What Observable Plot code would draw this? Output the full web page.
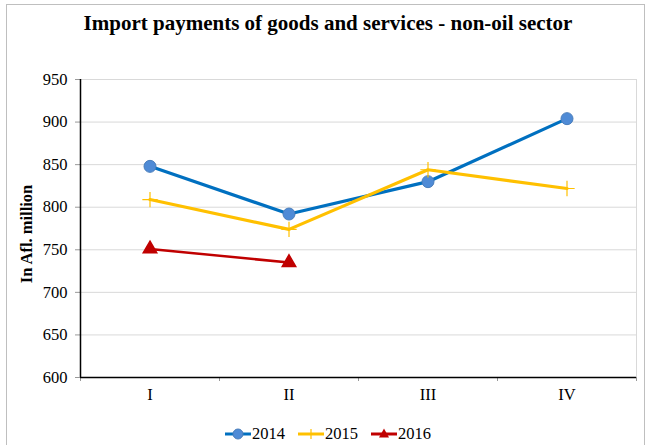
<!DOCTYPE html>
<html><head><meta charset="utf-8">
<script src="https://cdn.jsdelivr.net/npm/d3@7"></script>
<script src="https://cdn.jsdelivr.net/npm/@observablehq/plot@0.6"></script>
<style>
html,body{margin:0;padding:0;background:#fff;}
#wrap{position:relative;width:650px;height:445px;overflow:hidden;font-family:"Liberation Serif","Times New Roman",serif;}
#frame{position:absolute;left:6px;top:4px;width:639px;height:460px;border:1px solid #bfbfbf;box-sizing:border-box;}
#title{position:absolute;left:0;width:656px;top:11px;text-align:center;font-weight:bold;font-size:21px;color:#000;}
#ylab{position:absolute;left:27px;top:234px;transform:translate(-50%,-50%) rotate(-90deg);font-weight:bold;font-size:16.5px;white-space:nowrap;}
#chart{position:absolute;left:0;top:60px;}
#legend{position:absolute;top:424px;left:0;width:656px;display:flex;justify-content:center;gap:13px;font-size:16.5px;}
#legend span{display:flex;align-items:center;}
</style></head>
<body><div id="wrap"><div id="frame"></div><div id="title">Import payments of goods and services - non-oil sector</div>
<div id="ylab">In Afl. million</div><div id="chart"></div><div id="legend"></div></div>
<script>
const quarters = ["I", "II", "III", "IV"];
const years = ["2014", "2015", "2016"];
const v2014 = [848, 792, 830, 904];
const v2015 = [809, 774, 844, 822];
const v2016 = [751, 735];
const yTicks = [600, 650, 700, 750, 800, 850, 900, 950];
const colors = {"2014": "#0070C0", "2015": "#FFC000", "2016": "#C00000"};

const rows = [];
[[years[0], v2014], [years[1], v2015], [years[2], v2016]].forEach(([yr, vals]) =>
  vals.forEach((v, i) => rows.push({year: yr, q: i + 0.5, value: v})));

const chart = Plot.plot({
  width: 650, height: 350,
  marginLeft: 80, marginRight: 14, marginTop: 19, marginBottom: 33,
  style: {fontFamily: "'Liberation Serif','Times New Roman',serif", fontSize: "16px", color: "#000", background: "transparent"},
  x: {domain: [0, 4], axis: null},
  y: {domain: [600, 950], axis: null},
  marks: [
    Plot.ruleY(yTicks.slice(1), {stroke: "#d9d9d9", strokeWidth: 1}),
    Plot.ruleX([4], {stroke: "#d9d9d9", strokeWidth: 1}),
    Plot.axisY({ticks: yTicks, tickSize: 5, tickPadding: 8, stroke: "#999", fontSize: 16.5, label: null}),
    Plot.axisX({ticks: [0, 1, 2, 3, 4], tickSize: 4, tickFormat: () => "", stroke: "#999", label: null}),
    Plot.axisX({ticks: quarters.map((q, i) => i + 0.5), tickSize: 0, tickPadding: 11, tickFormat: d => quarters[Math.round(d - 0.5)], fontSize: 16.5, label: null}),
    Plot.ruleY([600], {stroke: "#000", strokeWidth: 1.5}),
    Plot.ruleX([0], {stroke: "#000", strokeWidth: 1.5}),
    Plot.line(rows, {x: "q", y: "value", z: "year", stroke: d => colors[d.year], strokeWidth: d => d.year === "2016" ? 2.5 : 3.2}),
    Plot.dot(rows.filter(d => d.year === "2014"), {x: "q", y: "value", r: 6, fill: "#4F8BD6", stroke: "#4A7EBB", strokeWidth: 1}),
    Plot.dot(rows.filter(d => d.year === "2015"), {x: "q", y: "value", r: 5, symbol: "plus", stroke: "#FFC000", strokeWidth: 1.2, fill: "none"}),
    Plot.dot(rows.filter(d => d.year === "2016"), {x: "q", y: "value", r: 5, symbol: "triangle", fill: "#C00000", stroke: "#C00000"})
  ]
});
document.getElementById("chart").appendChild(chart);

const icons = {
  "2014": '<line x1="0" y1="6" x2="26" y2="6" stroke="#0070C0" stroke-width="3"/><circle cx="13" cy="6" r="5" fill="#4F8BD6" stroke="#4A7EBB"/>',
  "2015": '<line x1="0" y1="6" x2="26" y2="6" stroke="#FFC000" stroke-width="3"/><path d="M13 1V11M8 6H18" stroke="#FFC000" stroke-width="1.2"/>',
  "2016": '<line x1="0" y1="6" x2="26" y2="6" stroke="#C00000" stroke-width="3"/><path d="M13 0.5L18 9.5H8Z" fill="#C00000"/>'
};
const leg = document.getElementById("legend");
years.forEach(y => {
  const s = document.createElement("span");
  s.innerHTML = '<svg width="26" height="12" style="margin-right:1px">' + icons[y] + '</svg>' + y;
  leg.appendChild(s);
});
</script></body></html>
